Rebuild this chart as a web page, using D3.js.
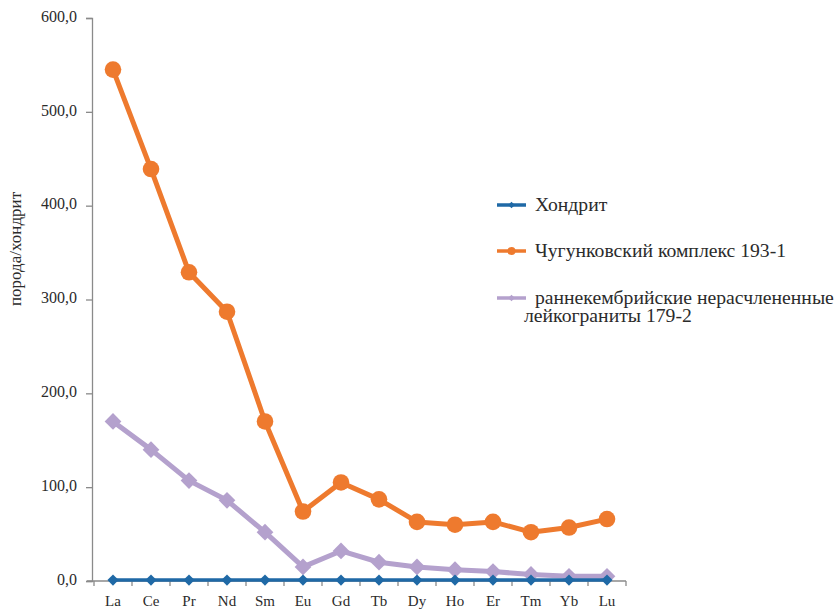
<!DOCTYPE html>
<html>
<head>
<meta charset="utf-8">
<script src="https://cdn.jsdelivr.net/npm/d3@7"></script>
</head>
<body style="margin:0;background:#fff">
<svg id="chart" width="837" height="610" style="display:block"></svg>
<script>
// REE elements along the x axis
const elements = ["La","Ce","Pr","Nd","Sm","Eu","Gd","Tb","Dy","Ho","Er","Tm","Yb","Lu"];

// Chondrite-normalized values
const chondrite = [1,1,1,1,1,1,1,1,1,1,1,1,1,1];
const chugunkovsky = [545,439,329,287,170,74,105,87,63,60,63,52,57,66];
const leucogranite = [170,140,107,86,52,15,32,20,15,12,10,7,5,5];

const yTicks = [0,100,200,300,400,500,600];

const seriesNames = [
  ["Хондрит"],
  ["Чугунковский комплекс 193-1"],
  ["раннекембрийские нерасчлененные", "лейкограниты 179-2"]
];

const FONT = "Liberation Serif";
const svg = d3.select("#chart");
const plotLeft = 92, plotRight = 626, plotTop = 18, plotBottom = 581;

const x = d3.scaleBand().domain(elements).range([plotLeft + 2, plotRight]).paddingInner(0).paddingOuter(0);
const y = d3.scaleLinear().domain([0, 600]).range([plotBottom, plotTop]);
const cx = d => x(d) + x.bandwidth() / 2;

const axisColor = "#8a8a8a";
const textColor = "#2b2b2b";
const fmt = v => d3.format(".1f")(v).replace(".", ",");

// Y axis
const gy = svg.append("g").attr("transform", `translate(${plotLeft},0)`)
  .call(d3.axisLeft(y).tickValues(yTicks).tickSize(6).tickPadding(9).tickFormat(fmt));
gy.attr("font-family", null);
gy.select(".domain").attr("stroke", axisColor).attr("stroke-width", 1.3);
gy.selectAll(".tick line").attr("stroke", axisColor).attr("stroke-width", 1.3);
gy.selectAll(".tick text").style("font-size", "16px").attr("fill", textColor)
  .style("font-family", FONT).attr("dy", "0.2em");

// X axis with ticks at category boundaries
const gx = svg.append("g").attr("transform", `translate(0,${plotBottom})`);
gx.append("line").attr("x1", plotLeft - 5).attr("x2", plotRight).attr("y1", 0).attr("y2", 0)
  .attr("stroke", axisColor).attr("stroke-width", 1.3);
const bounds = elements.map(e => x(e)).concat([x(elements[elements.length - 1]) + x.bandwidth()]);
gx.selectAll(".bt").data(bounds).join("line")
  .attr("x1", d => d).attr("x2", d => d).attr("y1", 0).attr("y2", 5)
  .attr("stroke", axisColor).attr("stroke-width", 1.3);
gx.selectAll(".lbl").data(elements).join("text")
  .attr("x", d => cx(d)).attr("y", 25).attr("text-anchor", "middle")
  .style("font-size", "15px").attr("fill", textColor).style("font-family", FONT).text(d => d);

// Y axis title
svg.append("text")
  .attr("transform", "translate(21,249) rotate(-90)")
  .attr("text-anchor", "middle").style("font-size", "17px").attr("fill", textColor)
  .style("font-family", FONT)
  .text("порода/хондрит");

const line = d3.line().x((d, i) => cx(elements[i])).y(d => y(d));

// Square rotated 45° gives an evenly proportioned diamond
const rhomb = size => d3.symbol().type(d3.symbolSquare).size(size)();

const series = [
  { values: chondrite, color: "#1f69a6", width: 3.5, marker: "diamond", size: 62 },
  { values: chugunkovsky, color: "#ee7a2e", width: 5, marker: "circle", r: 8.3 },
  { values: leucogranite, color: "#b4a1cd", width: 5, marker: "diamond", size: 140 }
];

// Draw back to front: purple, orange, blue on top
[2, 1, 0].forEach(k => {
  const s = series[k];
  const g = svg.append("g");
  g.append("path").attr("d", line(s.values)).attr("fill", "none")
    .attr("stroke", s.color).attr("stroke-width", s.width).attr("stroke-linejoin", "round");
  if (s.marker === "circle") {
    g.selectAll("circle").data(s.values).join("circle")
      .attr("cx", (d, i) => cx(elements[i])).attr("cy", d => y(d)).attr("r", s.r)
      .attr("fill", s.color);
  } else {
    g.selectAll("path.m").data(s.values).join("path").attr("class", "m")
      .attr("transform", (d, i) => `translate(${cx(elements[i])},${y(d)}) rotate(45)`)
      .attr("d", rhomb(s.size)).attr("fill", s.color);
  }
});

// Legend
const legendY = [205, 251, 298];
const legendX = 497, textX = 38;
const lg = svg.append("g");
const legendTexts = [];
series.forEach((s, k) => {
  const g = lg.append("g").attr("transform", `translate(${legendX},${legendY[k]})`);
  g.append("line").attr("x1", 0).attr("x2", 29).attr("y1", 0).attr("y2", 0)
    .attr("stroke", s.color).attr("stroke-width", 3.5);
  if (s.marker === "circle") {
    g.append("circle").attr("cx", 14.5).attr("cy", 0).attr("r", 4).attr("fill", s.color);
  } else {
    g.append("path").attr("transform", "translate(14.5,0) rotate(45)")
      .attr("d", rhomb(22)).attr("fill", s.color);
  }
  const t = g.append("text").attr("x", textX).attr("y", 6)
    .style("font-size", "21px").attr("fill", textColor).style("font-family", FONT);
  seriesNames[k].forEach((ln, j) => {
    t.append("tspan").attr("x", j === 0 ? textX : textX - 11).attr("dy", j === 0 ? 0 : 18).text(ln);
  });
  legendTexts.push(t);
});

// Keep the widest legend line inside the frame
const maxRight = 834 - legendX - textX;
let widest = 0;
legendTexts.forEach(t => t.selectAll("tspan").each(function () {
  widest = Math.max(widest, this.getComputedTextLength());
}));
if (widest > maxRight) {
  const fs = 21 * maxRight / widest;
  legendTexts.forEach(t => t.style("font-size", fs + "px"));
}
</script>
</body>
</html>
